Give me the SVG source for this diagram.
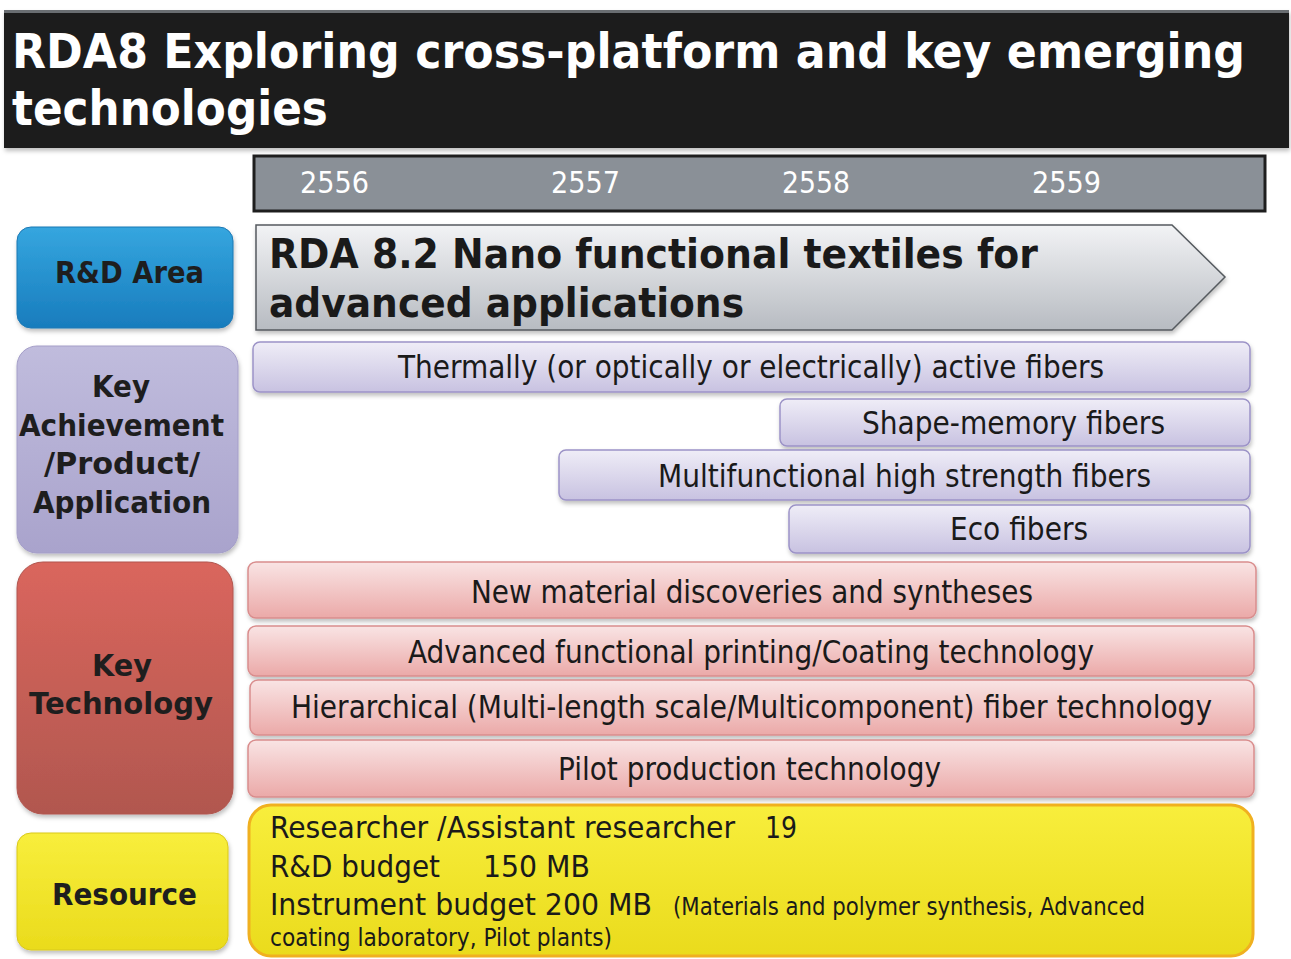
<svg xmlns="http://www.w3.org/2000/svg" width="1291" height="959" viewBox="0 0 1291 959">
<defs>
<linearGradient id="gArrow" x1="0" y1="0" x2="0" y2="1"><stop offset="0" stop-color="#f2f3f5"/><stop offset="1" stop-color="#b7bbc1"/></linearGradient>
<linearGradient id="gLav" x1="0" y1="0" x2="0" y2="1"><stop offset="0" stop-color="#efedf7"/><stop offset="1" stop-color="#c8c2e1"/></linearGradient>
<linearGradient id="gPink" x1="0" y1="0" x2="0" y2="1"><stop offset="0" stop-color="#f9e4e4"/><stop offset="1" stop-color="#eba9a8"/></linearGradient>
<linearGradient id="gBlue" x1="0" y1="0" x2="0" y2="1"><stop offset="0" stop-color="#35a6df"/><stop offset="1" stop-color="#187cbd"/></linearGradient>
<linearGradient id="gLavBox" x1="0" y1="0" x2="0" y2="1"><stop offset="0" stop-color="#c0bcdd"/><stop offset="1" stop-color="#a9a3cc"/></linearGradient>
<linearGradient id="gRed" x1="0" y1="0" x2="0" y2="1"><stop offset="0" stop-color="#da665d"/><stop offset="1" stop-color="#b1574f"/></linearGradient>
<linearGradient id="gYel" x1="0" y1="0" x2="0" y2="1"><stop offset="0" stop-color="#f8ee3c"/><stop offset="1" stop-color="#eadb1c"/></linearGradient>
<filter id="sh" x="-5%" y="-5%" width="110%" height="120%"><feDropShadow dx="1" dy="3" stdDeviation="2" flood-color="#000" flood-opacity="0.25"/></filter>
<style>
.t{font-family:"DejaVu Sans","Liberation Sans",sans-serif;}
.b{font-weight:bold;}
.c{font-family:"DejaVu Sans Condensed","DejaVu Sans","Liberation Sans",sans-serif;fill:#1a1a1a;}
.w{fill:#ffffff;}
.lav{fill:url(#gLav);stroke:#9c93c7;stroke-width:1.5;filter:url(#sh);}
.pink{fill:url(#gPink);stroke:#d98d8d;stroke-width:1.5;filter:url(#sh);}
.lbl{font-family:"DejaVu Sans","Liberation Sans",sans-serif;font-weight:bold;fill:#1e1e1e;font-size:30px;}
</style>
</defs>
<rect width="1291" height="959" fill="#ffffff"/>

<g id="title">
<rect x="4" y="10" width="1285" height="138" fill="#1b1b1b" filter="url(#sh)"/>
<rect x="4" y="10" width="1285" height="3" fill="#6a6e72"/>
<text class="t b w" transform="translate(12,68) scale(0.9,1)" x="0" y="0" font-size="48" textLength="1370" lengthAdjust="spacingAndGlyphs">RDA8 Exploring cross-platform and key emerging</text>
<text class="t b w" transform="translate(12,125) scale(0.9,1)" x="0" y="0" font-size="48" textLength="351" lengthAdjust="spacingAndGlyphs">technologies</text>
</g>

<g id="years">
<rect x="254" y="156" width="1011" height="55" fill="#8a9097" stroke="#1e1e1e" stroke-width="3"/>
<text class="c w" x="300" y="193" font-size="31" textLength="69" lengthAdjust="spacingAndGlyphs">2556</text>
<text class="c w" x="551" y="193" font-size="31" textLength="69" lengthAdjust="spacingAndGlyphs">2557</text>
<text class="c w" x="782" y="193" font-size="31" textLength="68" lengthAdjust="spacingAndGlyphs">2558</text>
<text class="c w" x="1032" y="193" font-size="31" textLength="69" lengthAdjust="spacingAndGlyphs">2559</text>
</g>

<g id="rd-area-arrow">
<path d="M256 225 H1172 L1225 277 L1172 330 H256 Z" fill="url(#gArrow)" stroke="#555a5f" stroke-width="1.5" filter="url(#sh)"/>
<text class="t b" x="269" y="268" font-size="41" fill="#1a1a1a" textLength="769" lengthAdjust="spacingAndGlyphs">RDA 8.2 Nano functional textiles for</text>
<text class="t b" x="269" y="317" font-size="41" fill="#1a1a1a" textLength="475" lengthAdjust="spacingAndGlyphs">advanced applications</text>
</g>

<g id="label-rd-area">
<rect x="17" y="227" width="216" height="101" rx="14" fill="url(#gBlue)" stroke="#1d78b4" stroke-width="1" filter="url(#sh)"/>
<text class="lbl" x="55" y="283" textLength="149" lengthAdjust="spacingAndGlyphs">R&amp;D Area</text>
</g>

<g id="label-key-achievement">
<rect x="17" y="346" width="221" height="207" rx="20" fill="url(#gLavBox)" stroke="#a49ec8" stroke-width="1" filter="url(#sh)"/>
<text class="lbl" x="92" y="397" textLength="58" lengthAdjust="spacingAndGlyphs">Key</text>
<text class="lbl" x="19" y="436" textLength="205" lengthAdjust="spacingAndGlyphs">Achievement</text>
<text class="lbl" x="44" y="474" textLength="156" lengthAdjust="spacingAndGlyphs">/Product/</text>
<text class="lbl" x="33" y="513" textLength="178" lengthAdjust="spacingAndGlyphs">Application</text>
</g>

<g id="label-key-technology">
<rect x="17" y="562" width="216" height="252" rx="26" fill="url(#gRed)" stroke="#b0554e" stroke-width="1" filter="url(#sh)"/>
<text class="lbl" x="92" y="676" textLength="60" lengthAdjust="spacingAndGlyphs">Key</text>
<text class="lbl" x="29" y="714" textLength="184" lengthAdjust="spacingAndGlyphs">Technology</text>
</g>

<g id="label-resource">
<rect x="17" y="833" width="211" height="117" rx="14" fill="url(#gYel)" stroke="#d9c81a" stroke-width="1" filter="url(#sh)"/>
<text class="lbl" x="52" y="905" textLength="145" lengthAdjust="spacingAndGlyphs">Resource</text>
</g>

<g id="achievement-1">
<rect class="lav" x="253" y="342" width="997" height="50" rx="7"/>
<text class="c" x="398" y="378" font-size="32" textLength="706" lengthAdjust="spacingAndGlyphs">Thermally (or optically or electrically) active fibers</text>
</g>
<g id="achievement-2">
<rect class="lav" x="780" y="399" width="470" height="47" rx="7"/>
<text class="c" x="862" y="434" font-size="32" textLength="303" lengthAdjust="spacingAndGlyphs">Shape-memory fibers</text>
</g>
<g id="achievement-3">
<rect class="lav" x="559" y="450" width="691" height="50" rx="7"/>
<text class="c" x="658" y="487" font-size="32" textLength="493" lengthAdjust="spacingAndGlyphs">Multifunctional high strength fibers</text>
</g>
<g id="achievement-4">
<rect class="lav" x="789" y="505" width="461" height="48" rx="7"/>
<text class="c" x="950" y="540" font-size="32" textLength="138" lengthAdjust="spacingAndGlyphs">Eco fibers</text>
</g>

<g id="tech-1">
<rect class="pink" x="248" y="562" width="1008" height="56" rx="8"/>
<text class="c" x="471" y="603" font-size="32" textLength="562" lengthAdjust="spacingAndGlyphs">New material discoveries and syntheses</text>
</g>
<g id="tech-2">
<rect class="pink" x="248" y="626" width="1006" height="50" rx="8"/>
<text class="c" x="408" y="663" font-size="32" textLength="686" lengthAdjust="spacingAndGlyphs">Advanced functional printing/Coating technology</text>
</g>
<g id="tech-3">
<rect class="pink" x="250" y="680" width="1004" height="55" rx="8"/>
<text class="c" x="291" y="718" font-size="32" textLength="921" lengthAdjust="spacingAndGlyphs">Hierarchical (Multi-length scale/Multicomponent) fiber technology</text>
</g>
<g id="tech-4">
<rect class="pink" x="248" y="740" width="1006" height="57" rx="8"/>
<text class="c" x="558" y="780" font-size="32" textLength="383" lengthAdjust="spacingAndGlyphs">Pilot production technology</text>
</g>

<g id="resource-box">
<rect x="249" y="805" width="1004" height="151" rx="22" fill="url(#gYel)" stroke="#f0b020" stroke-width="3"/>
<text class="c" x="270" y="838" font-size="31" textLength="465" lengthAdjust="spacingAndGlyphs">Researcher /Assistant researcher</text>
<text class="c" x="765" y="838" font-size="31" textLength="32" lengthAdjust="spacingAndGlyphs">19</text>
<text class="c" x="270" y="877" font-size="31" textLength="170" lengthAdjust="spacingAndGlyphs">R&amp;D budget</text>
<text class="c" x="483" y="877" font-size="31" textLength="107" lengthAdjust="spacingAndGlyphs">150 MB</text>
<text class="c" x="270" y="915" font-size="31" textLength="382" lengthAdjust="spacingAndGlyphs">Instrument budget 200 MB</text>
<text class="c" x="673" y="915" font-size="25" textLength="472" lengthAdjust="spacingAndGlyphs">(Materials and polymer synthesis, Advanced</text>
<text class="c" x="270" y="946" font-size="25" textLength="342" lengthAdjust="spacingAndGlyphs">coating laboratory, Pilot plants)</text>
</g>
</svg>
